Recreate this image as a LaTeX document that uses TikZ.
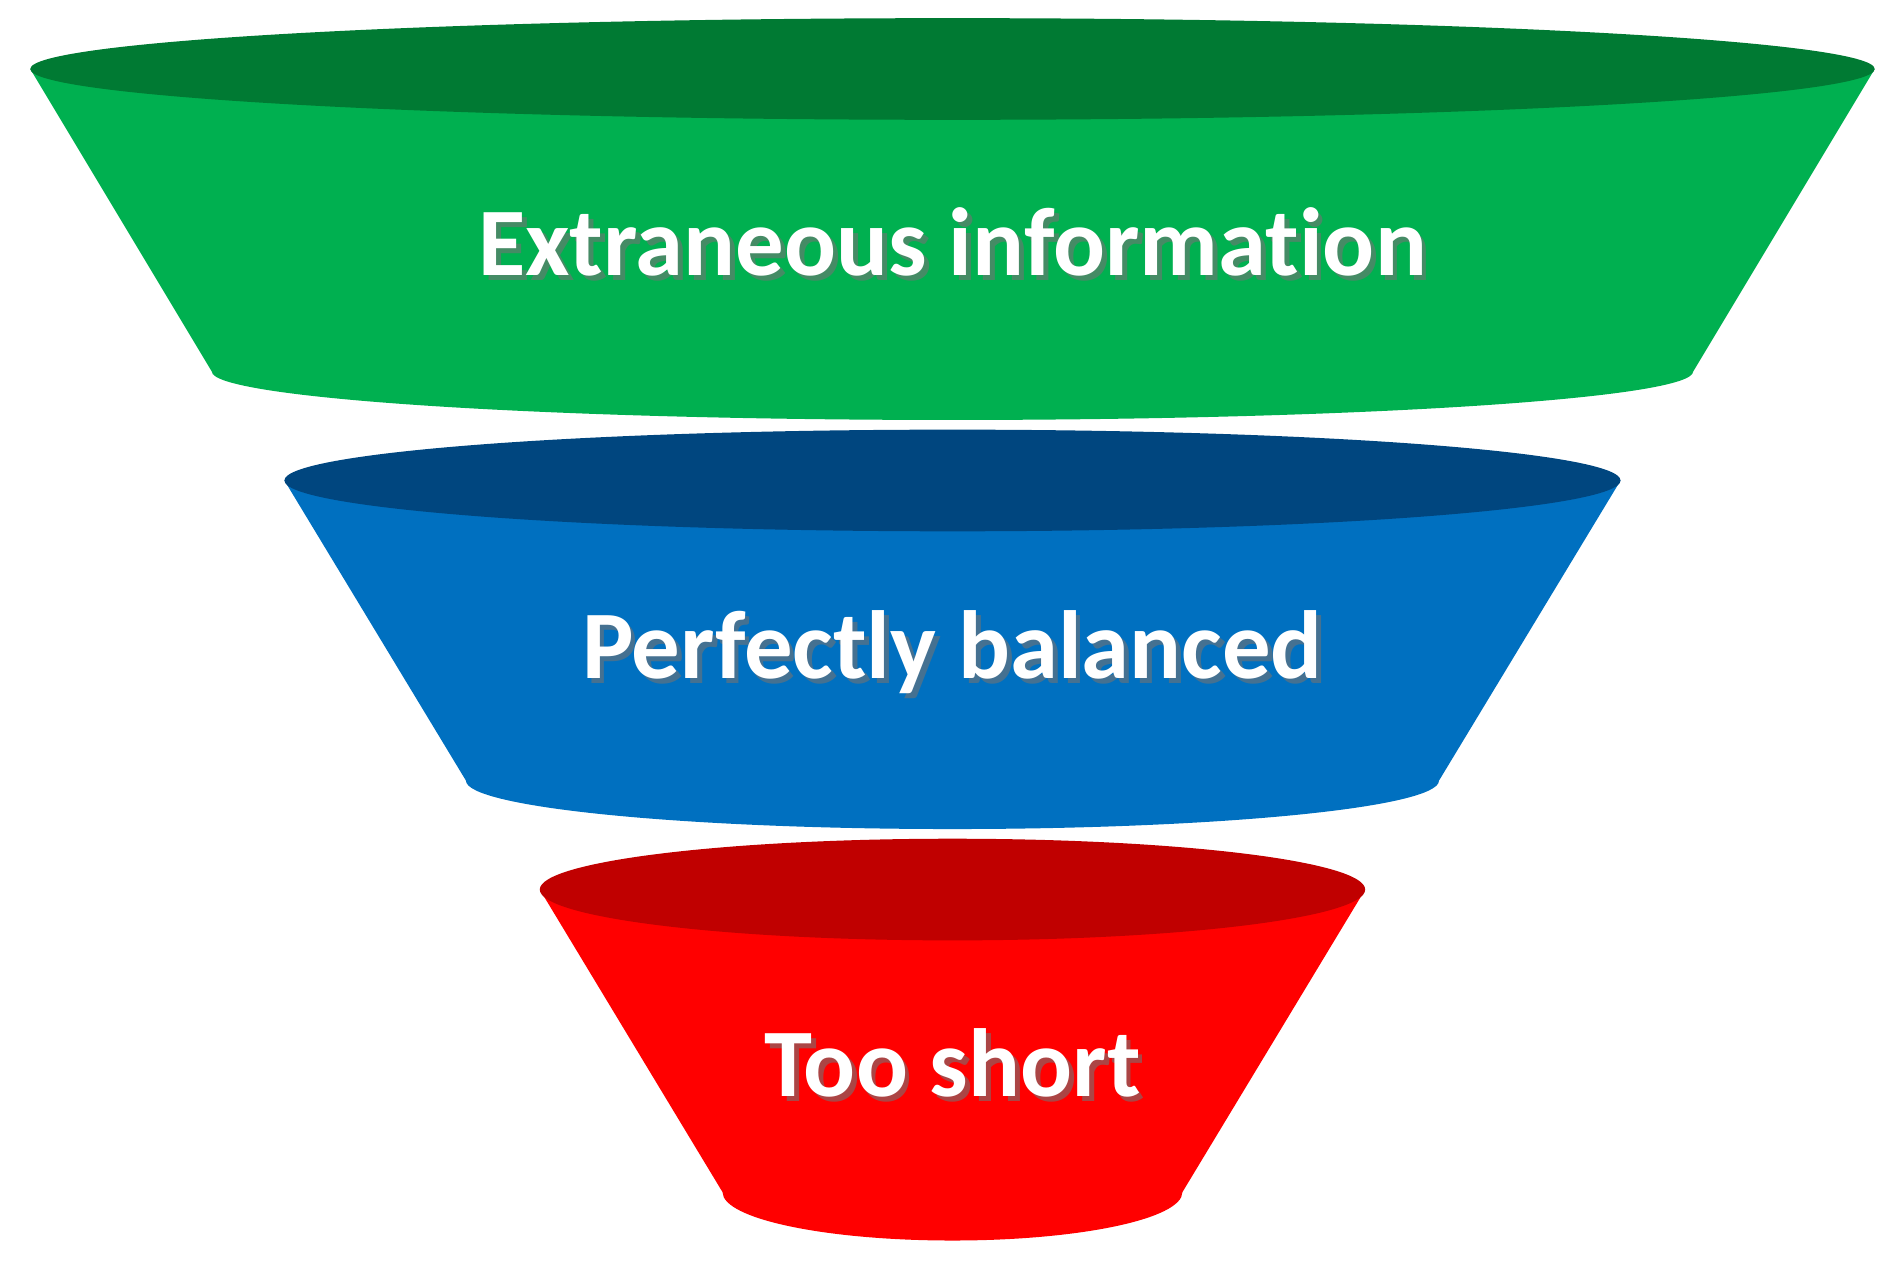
\documentclass[tikz,border=0pt]{standalone}
\usepackage{fontspec}
\setmainfont{Carlito}[Ligatures={NoCommon,NoRequired,NoContextual}]
\usetikzlibrary{positioning}
\definecolor{greenbody}{RGB}{0,176,80}
\definecolor{greentop}{RGB}{0,122,51}
\definecolor{bluebody}{RGB}{0,112,192}
\definecolor{bluetop}{RGB}{0,70,127}
\definecolor{redbody}{RGB}{255,0,0}
\definecolor{redtop}{RGB}{192,0,0}
\tikzset{
  label text/.style={font=\bfseries\fontsize{80}{84}\selectfont, text=white, inner sep=0pt},
  shadow text/.style={label text, text=black!55, opacity=0.6}
}
\begin{document}
\begin{tikzpicture}[x=1pt,y=-1pt]
\useasboundingbox (0,0) rectangle (1560,1044);

% each part: top y, top radius, bottom y, bottom radius, body colour, top colour, name, text
\foreach \ty/\tr/\by/\br/\cb/\ct/\nm/\txt in {
  57/762/307/612/greenbody/greentop/extra/Extraneous information,
  397/552/645/402/bluebody/bluetop/balanced/Perfectly balanced,
  735/341/985/190/redbody/redtop/short/Too short}{
  \fill[\cb] (787-\tr,\ty) -- (787-\br,\by)
     arc[start angle=180, end angle=0, x radius=\br, y radius=40]
     -- (787+\tr,\ty) -- cycle;
  \fill[\ct] (787,\ty) ellipse[x radius=\tr, y radius=42];
  \node[shadow text] at (791,{(\ty+\by)/2+22}) {\txt};
  \node[label text] (\nm) at (787,{(\ty+\by)/2+18}) {\txt};
}

\end{tikzpicture}
\end{document}
